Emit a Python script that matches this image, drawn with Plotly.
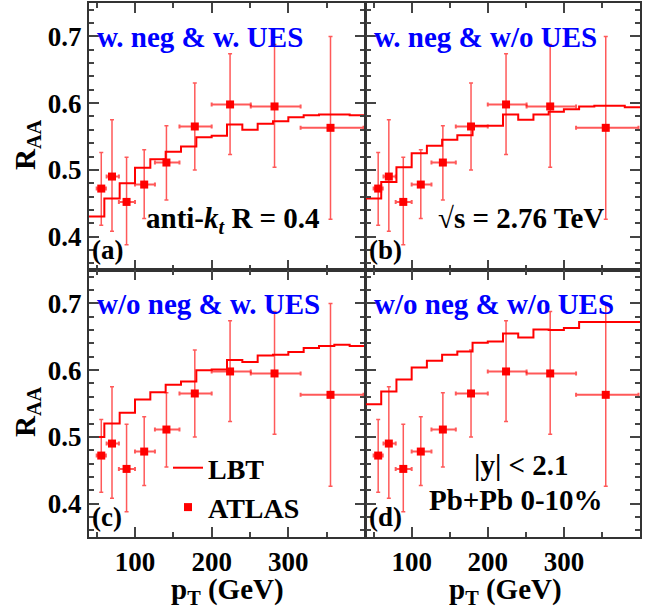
import plotly.graph_objects as go
from plotly.subplots import make_subplots

# LBT histogram: bin edges 40..400 in steps of 20 GeV
lbt_edges = list(range(40, 401, 20))
lbt_a = [0.430, 0.457, 0.480, 0.503, 0.516, 0.527, 0.535, 0.549, 0.551, 0.568,
         0.560, 0.569, 0.573, 0.579, 0.582, 0.583, 0.583, 0.582]
lbt_b = [0.457, 0.482, 0.504, 0.525, 0.536, 0.545, 0.552, 0.566, 0.566, 0.583,
         0.575, 0.583, 0.587, 0.591, 0.595, 0.596, 0.596, 0.594]
lbt_c = [0.500, 0.520, 0.536, 0.556, 0.567, 0.578, 0.583, 0.600, 0.601, 0.615,
         0.612, 0.622, 0.623, 0.627, 0.633, 0.636, 0.638, 0.636]
lbt_d = [0.549, 0.568, 0.586, 0.604, 0.614, 0.623, 0.628, 0.641, 0.643, 0.655,
         0.649, 0.661, 0.660, 0.663, 0.672, 0.672, 0.672, 0.672]

# ATLAS data
atlas_pt = [56, 70, 89, 112, 141, 178, 224, 282, 355]
atlas_lo = [50, 63, 79, 100, 126, 158, 200, 251, 316]
atlas_hi = [62, 79, 100, 126, 158, 200, 251, 316, 398]
atlas_raa = [0.472, 0.490, 0.452, 0.478, 0.511, 0.565, 0.598, 0.595, 0.563]
atlas_up = [0.526, 0.575, 0.519, 0.530, 0.566, 0.630, 0.674, 0.688, 0.700]
atlas_dn = [0.417, 0.408, 0.388, 0.427, 0.455, 0.500, 0.523, 0.504, 0.426]

titles = ["w. neg & w. UES", "w. neg & w/o UES", "w/o neg & w. UES", "w/o neg & w/o UES"]
tags = ["(a)", "(b)", "(c)", "(d)"]
curves = [lbt_a, lbt_b, lbt_c, lbt_d]

RED = "#ff0000"
SERIF = "Liberation Serif, Times New Roman, serif"

fig = make_subplots(rows=2, cols=2, horizontal_spacing=0, vertical_spacing=0)

for i, vals in enumerate(curves):
    r, c = i // 2 + 1, i % 2 + 1
    fig.add_trace(go.Scatter(
        x=lbt_edges, y=vals + [vals[-1]], mode="lines", line_shape="hv",
        line=dict(color=RED, width=2), name="LBT", showlegend=(i == 2)), row=r, col=c)
    fig.add_trace(go.Scatter(
        x=atlas_pt, y=atlas_raa, mode="markers", name="ATLAS", showlegend=(i == 2),
        marker=dict(symbol="square", size=8, color=RED),
        error_x=dict(type="data", symmetric=False,
                     array=[h - p for h, p in zip(atlas_hi, atlas_pt)],
                     arrayminus=[p - l for p, l in zip(atlas_pt, atlas_lo)],
                     color="rgba(255,0,0,0.65)", thickness=2, width=2),
        error_y=dict(type="data", symmetric=False,
                     array=[u - v for u, v in zip(atlas_up, atlas_raa)],
                     arrayminus=[v - d for v, d in zip(atlas_raa, atlas_dn)],
                     color="rgba(255,0,0,0.65)", thickness=1.5, width=2)), row=r, col=c)

W, H = 668, 614
xdom = [[89 / W, 365 / W], [366 / W, 640 / W]]
ydom = [[(H - 270) / H, (H - 3) / H], [(H - 537) / H, (H - 270) / H]]
tickfont = dict(family=SERIF, size=27, color="black", weight="bold")

for i in range(4):
    r, c = i // 2, i % 2
    sfx = "" if i == 0 else str(i + 1)
    fig.layout["xaxis" + sfx].update(
        domain=xdom[c], range=[40, 400], tickvals=[100, 200, 300],
        showticklabels=(r == 1), ticks="inside", ticklen=10, tickwidth=1.5,
        minor=dict(dtick=50, tick0=0, ticks="inside", ticklen=5),
        showline=True, mirror="allticks", linewidth=2, linecolor="#333",
        showgrid=False, zeroline=False, tickfont=tickfont)
    fig.layout["yaxis" + sfx].update(
        domain=ydom[r], range=[0.35, 0.75], tickvals=[0.4, 0.5, 0.6, 0.7],
        showticklabels=(c == 0), ticks="inside", ticklen=10, tickwidth=1.5,
        minor=dict(dtick=0.02, tick0=0, ticks="inside", ticklen=5),
        showline=True, mirror="allticks", linewidth=2, linecolor="#333",
        showgrid=False, zeroline=False, tickfont=tickfont)
    x0 = xdom[c][0]
    ytop = ydom[r][1]
    fig.add_annotation(x=x0 + 6 / W, y=ytop - 34 / H, xref="paper", yref="paper",
                       xanchor="left", yanchor="middle", showarrow=False, text=titles[i],
                       font=dict(family=SERIF, size=29, color="#0000ff", weight="bold"))
    fig.add_annotation(x=x0 + 1 / W, y=ydom[r][0] + 3 / H, xref="paper", yref="paper",
                       xanchor="left", yanchor="bottom", showarrow=False, text=tags[i],
                       font=dict(family=SERIF, size=27, color="black", weight="bold"))

big = dict(family=SERIF, size=29, color="black", weight="bold")
notes = [
    ("anti-<i>k</i><sub><i>t</i></sub> R = 0.4", 233, 220),
    ("√s = 2.76 TeV", 521, 218),
    ("|y| < 2.1", 521, 465),
    ("Pb+Pb 0-10%", 516, 500),
]
for txt, px, py in notes:
    fig.add_annotation(x=px / W, y=1 - py / H, xref="paper", yref="paper",
                       xanchor="center", yanchor="middle",
                       showarrow=False, text=txt, font=big)

for px in [227, 505]:
    fig.add_annotation(x=px / W, y=1 - 591 / H, xref="paper", yref="paper",
                       xanchor="center", yanchor="middle",
                       showarrow=False, text="p<sub>T</sub> (GeV)", font=big)
for py in [145, 412]:
    fig.add_annotation(x=27 / W, y=1 - py / H, xref="paper", yref="paper",
                       xanchor="center", yanchor="middle",
                       showarrow=False, text="R<sub>AA</sub>", textangle=-90, font=big)

fig.update_layout(
    width=W, height=H, margin=dict(l=0, r=0, t=0, b=0),
    plot_bgcolor="white", paper_bgcolor="white",
    font=dict(family=SERIF),
    legend=dict(x=168 / W, y=1 - 443 / H, xanchor="left", yanchor="top",
                bgcolor="rgba(0,0,0,0)", font=dict(family=SERIF, size=28, color="black", weight="bold"),
                itemwidth=30, tracegroupgap=0),
)

fig.write_html("out.html", config={"displayModeBar": False},
               post_script="document.body.style.margin='0';")
